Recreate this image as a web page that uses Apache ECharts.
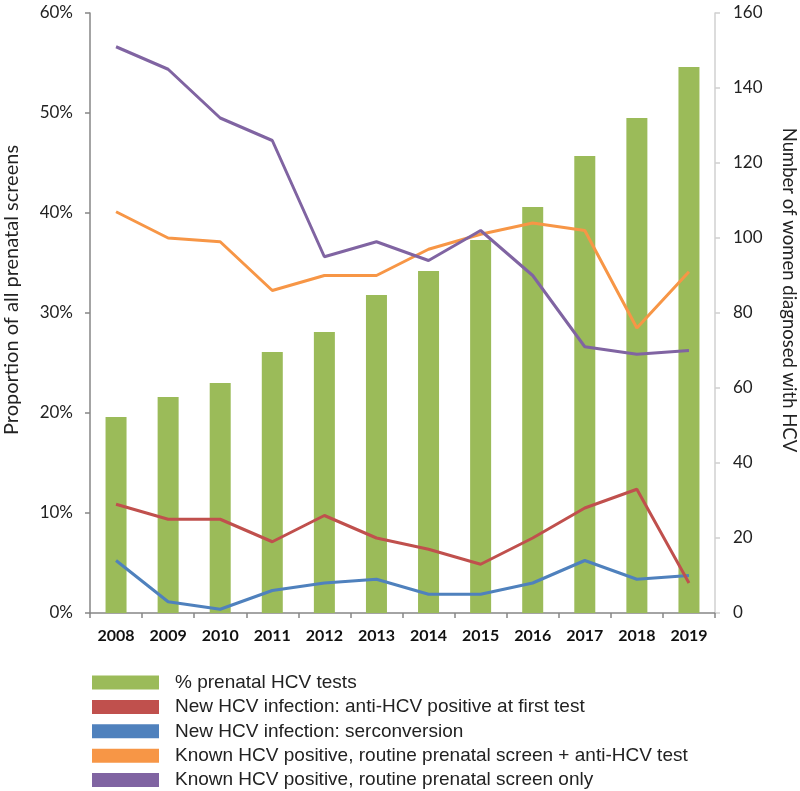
<!DOCTYPE html>
<html>
<head>
<meta charset="utf-8">
<script src="https://cdn.jsdelivr.net/npm/echarts@6/dist/echarts.min.js"></script>
<style>
html,body{margin:0;padding:0;background:#fff;}
#chart{width:800px;height:791px;}
</style>
</head>
<body>
<div id="chart"></div>
<script>
const years = ['2008','2009','2010','2011','2012','2013','2014','2015','2016','2017','2018','2019'];
const pctPrenatalTests = [19.6, 21.6, 23.0, 26.1, 28.1, 31.8, 34.2, 37.3, 40.6, 45.7, 49.5, 54.6];
const newAntiHcvFirstTest = [29, 25, 25, 19, 26, 20, 17, 13, 20, 28, 33, 8];
const newSeroconversion = [14, 3, 1, 6, 8, 9, 5, 5, 8, 14, 9, 10];
const knownScreenPlusAnti = [107, 100, 99, 86, 90, 90, 97, 101, 104, 102, 76, 91];
const knownScreenOnly = [151, 145, 132, 126, 95, 99, 94, 102, 90, 71, 69, 70];
const leftTicks = {min: 0, max: 60, interval: 10};
const rightTicks = {min: 0, max: 160, interval: 20};

const names = [
  '% prenatal HCV tests',
  'New HCV infection: anti-HCV positive at first test',
  'New HCV infection: serconversion',
  'Known HCV positive, routine prenatal screen + anti-HCV test',
  'Known HCV positive, routine prenatal screen only'
];
const colors = ['#9BBB59', '#C0504D', '#4F81BD', '#F79646', '#8064A2'];
const font = '"Liberation Sans", Arial, sans-serif';
const cfont = 'Lato, "Liberation Sans", sans-serif';

const chart = echarts.init(document.getElementById('chart'), null, {renderer: 'canvas'});

function lineSeries(i, data, z) {
  return {
    name: names[i], type: 'line', yAxisIndex: 1, data: data,
    symbol: 'none', z: z,
    lineStyle: {color: colors[i], width: 3},
    itemStyle: {color: colors[i]}
  };
}

chart.setOption({
  animation: false,
  backgroundColor: '#ffffff',
  grid: {left: 90, right: 85, top: 13, bottom: 178, containLabel: false},
  xAxis: {
    type: 'category', data: years, boundaryGap: true,
    axisLine: {lineStyle: {color: '#868686', width: 1.5}},
    axisTick: {show: true, length: 5, lineStyle: {color: '#868686', width: 1.5}},
    axisLabel: {margin: 15, color: '#111', fontFamily: cfont, fontWeight: 'bold', fontSize: 16}
  },
  yAxis: [
    {
      type: 'value', min: leftTicks.min, max: leftTicks.max, interval: leftTicks.interval,
      position: 'left',
      axisLine: {show: true, lineStyle: {color: '#868686', width: 1.5}},
      axisTick: {show: true, length: 5, lineStyle: {color: '#868686', width: 1.5}},
      splitLine: {show: false},
      axisLabel: {formatter: '{value}%', margin: 17, color: '#222', fontFamily: cfont, fontSize: 17}
    },
    {
      type: 'value', min: rightTicks.min, max: rightTicks.max, interval: rightTicks.interval,
      position: 'right',
      axisLine: {show: true, lineStyle: {color: '#D0D0D0', width: 1.5}},
      axisTick: {show: true, length: 5, lineStyle: {color: '#D0D0D0', width: 1.5}},
      splitLine: {show: false},
      axisLabel: {margin: 18, color: '#222', fontFamily: cfont, fontSize: 17}
    }
  ],
  legend: {
    orient: 'vertical', left: 92, top: 673, padding: 0,
    itemWidth: 67, itemHeight: 14, itemGap: 5.4,
    textStyle: {fontFamily: font, fontSize: 19, lineHeight: 19, color: '#222', padding: [0, 0, 0, 11]},
    data: names.map((n, i) => ({name: n, icon: 'rect', itemStyle: {color: colors[i]}}))
  },
  graphic: [
    {
      type: 'text', x: 12, y: 290, rotation: Math.PI / 2,
      style: {text: 'Proportion of all prenatal screens', fill: '#222', font: '20px ' + cfont, align: 'center', verticalAlign: 'middle'}
    },
    {
      type: 'text', x: 789, y: 290, rotation: -Math.PI / 2,
      style: {text: 'Number of women diagnosed with HCV', fill: '#222', font: '18.5px ' + cfont, align: 'center', verticalAlign: 'middle'}
    }
  ],
  series: [
    {
      name: names[0], type: 'bar', yAxisIndex: 0, data: pctPrenatalTests,
      barWidth: 21, z: 1,
      itemStyle: {color: colors[0]}
    },
    lineSeries(1, newAntiHcvFirstTest, 4),
    lineSeries(2, newSeroconversion, 3),
    lineSeries(3, knownScreenPlusAnti, 3),
    lineSeries(4, knownScreenOnly, 4)
  ]
});
</script>
</body>
</html>
